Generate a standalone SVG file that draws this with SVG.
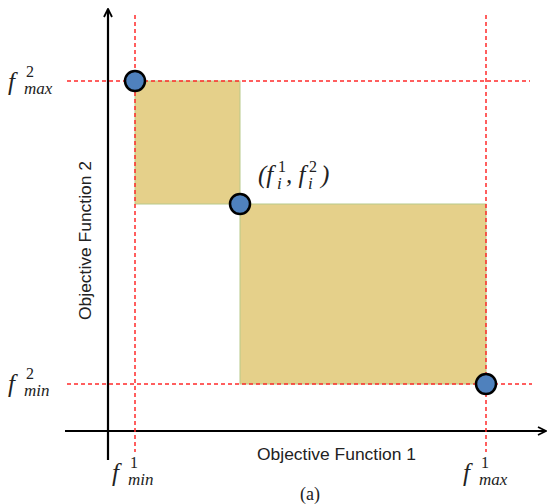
<svg xmlns="http://www.w3.org/2000/svg" width="549" height="504" viewBox="0 0 549 504">
<style>
.red{stroke:#ff2a2a;stroke-width:1.5;stroke-dasharray:4 3;fill:none}
.area{fill:#e5d08a;stroke:#b8c98a;stroke-width:1}
.pt{fill:#4f81bd;stroke:#000;stroke-width:2.5}
.ax{stroke:#000;stroke-width:2.2;fill:none}
.m{font-family:"Liberation Serif","DejaVu Serif",serif;font-style:italic;fill:#222}
.n{font-family:"Liberation Serif","DejaVu Serif",serif;font-style:normal;fill:#222;font-size:16px}
.f{font-size:25px}
.s{font-size:17px}
.lab{font-family:"Liberation Sans","Open Sans",sans-serif;font-size:16px;fill:#222}
</style>
<defs>
<marker id="arr" viewBox="0 0 10 10" refX="9" refY="5" markerWidth="10" markerHeight="10" markerUnits="userSpaceOnUse" orient="auto">
<path d="M1,1 L9,5 L1,9" fill="none" stroke="#000" stroke-width="1.8"/>
</marker>
</defs>
<rect width="549" height="504" fill="#fff"/>
<g id="areas">
<rect class="area" x="135" y="81" width="105" height="123"/>
<rect class="area" x="240" y="204" width="246" height="180"/>
</g>
<g id="connectors">
<line class="ax" x1="108" y1="460" x2="108" y2="9" marker-end="url(#arr)"/>
<line class="ax" x1="65" y1="431" x2="546" y2="431" marker-end="url(#arr)"/>
<line class="red" x1="135" y1="15" x2="135" y2="452"/>
<line class="red" x1="486" y1="15" x2="486" y2="452"/>
<line class="red" x1="67" y1="81" x2="530" y2="81"/>
<line class="red" x1="67" y1="384" x2="532" y2="384"/>
</g>
<g id="p1"><circle class="pt" cx="135" cy="81" r="10"/></g>
<g id="p2"><circle class="pt" cx="240" cy="204" r="10"/></g>
<g id="p3"><circle class="pt" cx="486" cy="384" r="10"/></g>
<g id="labels">
<text class="m f" x="8" y="90">f</text><text class="n" x="26" y="77">2</text><text class="m s" x="24" y="94">max</text>
<text class="m f" x="8" y="392">f</text><text class="n" x="26" y="379">2</text><text class="m s" x="24" y="396">min</text>
<text class="m f" x="112" y="481">f</text><text class="n" x="130" y="468">1</text><text class="m s" x="128" y="485">min</text>
<text class="m f" x="463" y="481">f</text><text class="n" x="481" y="468">1</text><text class="m s" x="479" y="485">max</text>
<text class="m f" x="258" y="183">(f</text><text class="n" x="278" y="172">1</text><text class="m s" x="277" y="189">i</text><text class="m f" x="286" y="183">, f</text><text class="n" x="309" y="172">2</text><text class="m s" x="308" y="189">i</text><text class="m f" x="321" y="183">)</text>
<text class="lab" x="257" y="460" textLength="159" lengthAdjust="spacingAndGlyphs">Objective Function 1</text>
<text class="lab" transform="translate(91,320) rotate(-90)" x="0" y="0" textLength="159" lengthAdjust="spacingAndGlyphs">Objective Function 2</text>
<text x="300" y="500" font-family="'Liberation Serif',serif" font-size="18" fill="#222">(a)</text>
</g>
</svg>
